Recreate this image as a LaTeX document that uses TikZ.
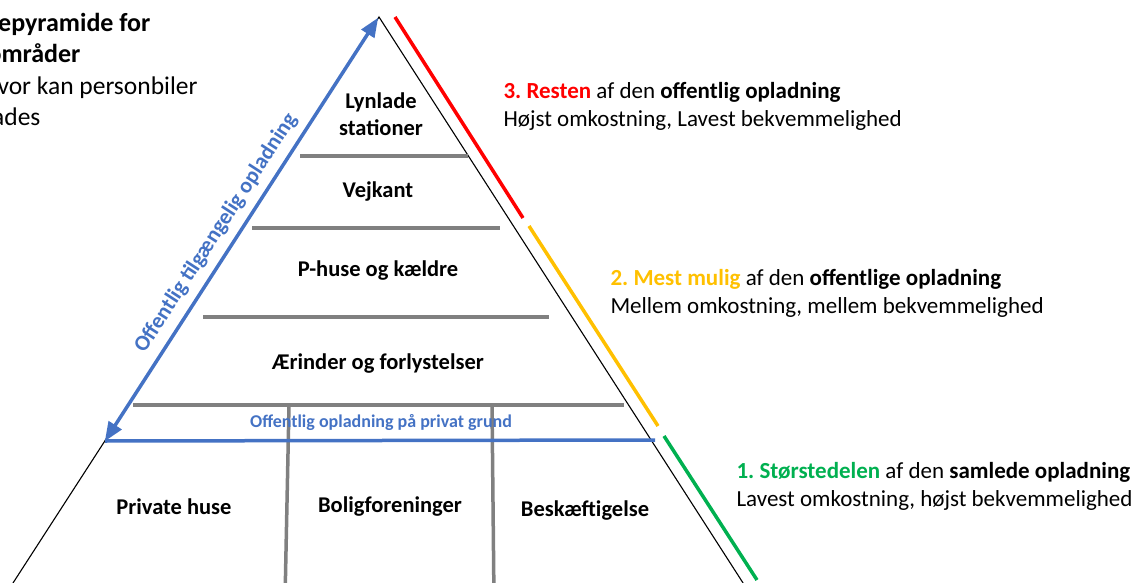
\documentclass[tikz,border=0pt]{standalone}
\usepackage{fontspec}
\setmainfont{Carlito}
\usepackage{tikz}
\usetikzlibrary{arrows,positioning}
\definecolor{pyrblue}{HTML}{4472C4}
\definecolor{pyrgray}{HTML}{808080}
\definecolor{pyrred}{HTML}{FF0000}
\definecolor{pyryellow}{HTML}{FFC000}
\definecolor{pyrgreen}{HTML}{00B050}
\frenchspacing

\begin{document}
\begin{tikzpicture}[x=1pt,y=-1pt,
  level/.style={draw=pyrgray,line width=3.5pt},
  band/.style={line width=3.5pt},
  lbl/.style={font=\bfseries\fontsize{22.5}{27}\selectfont,align=center},
  note/.style={anchor=west,align=left,font=\fontsize{23}{28}\selectfont},
  head/.style={anchor=base east,font=\fontsize{25.5}{31}\selectfont}]
 \clip (0,0) rectangle (1132,583);
 % pyramid outline
 \coordinate (apex) at (379,17);
 \coordinate (baseL) at (2,600);
 \coordinate (baseR) at (754,600);
 \draw[line width=1.1pt] (baseL) -- (apex) -- (baseR);

 % levels
 \coordinate (l1a) at (300,156); \coordinate (l1b) at (468,156);
 \coordinate (l2a) at (252,228); \coordinate (l2b) at (500,228);
 \coordinate (l3a) at (203,317); \coordinate (l3b) at (549,317);
 \coordinate (l4a) at (133,405); \coordinate (l4b) at (624,405);
 \coordinate (v1a) at (289,405); \coordinate (v1b) at (285,600);
 \coordinate (v2a) at (492,405); \coordinate (v2b) at (494,600);
 \draw[level] (l1a) -- (l1b);
 \draw[level] (l2a) -- (l2b);
 \draw[level] (l3a) -- (l3b);
 \draw[level] (l4a) -- (l4b);
 \draw[level] (v1a) -- (v1b);
 \draw[level] (v2a) -- (v2b);

 % public access arrow
 \coordinate (arrL) at (105,441);
 \coordinate (arrT) at (378,18);
 \coordinate (arrR) at (655,440);
 \draw[pyrblue,band] (arrR) -- (arrL);
 \draw[pyrblue,band,triangle 45-triangle 45] (arrL) -- (arrT);

 % cost bands
 \coordinate (r1) at (395,17);  \coordinate (r2) at (523,218);
 \coordinate (y1) at (529,226); \coordinate (y2) at (658,426);
 \coordinate (g1) at (664,436); \coordinate (g2) at (757,580);
 \draw[pyrred,band] (r1) -- (r2);
 \draw[pyryellow,band] (y1) -- (y2);
 \draw[pyrgreen,band] (g1) -- (g2);

 % labels inside
 \node[lbl] (lynlade) at (381,114) {Lynlade\\stationer};
 \node[lbl] (vejkant) at (378,192) {Vejkant};
 \node[lbl] (phuse) at (378,271) {P-huse og kældre};
 \node[lbl] (aerinder) at (378,364) {Ærinder og forlystelser};
 \node[text=pyrblue,font=\bfseries\fontsize{18}{22}\selectfont] (privgrund) at (381,422) {Offentlig opladning på privat grund};
 \node[lbl] (privat) at (174,507) {Private huse};
 \node[lbl] (bolig) at (390,507) {Boligforeninger};
 \node[lbl] (beskaef) at (585,511) {Beskæftigelse};
 \node[rotate=57,text=pyrblue,font=\bfseries\fontsize{22}{26}\selectfont] (tilg) at (216,233) {Offentlig tilgængelig opladning};

 % notes right
 \node[note] (note3) at (500,106) {\textbf{\textcolor{pyrred}{3. Resten}} af den \textbf{offentlig opladning}\\Højst omkostning, Lavest bekvemmelighed};
 \node[note] (note2) at (607,293) {\textbf{\textcolor{pyryellow}{2. Mest mulig}} af den \textbf{offentlige opladning}\\Mellem omkostning, mellem bekvemmelighed};
 \node[note] (note1) at (733,486) {\textbf{\textcolor{pyrgreen}{1. Størstedelen}} af den \textbf{samlede opladning}\\Lavest omkostning, højst bekvemmelighed};

 % heading, cut at left edge
 \node[head,font=\bfseries\fontsize{26}{31}\selectfont] (head1) at (154,32) {epyramide for};
 \node[head,font=\bfseries\fontsize{26}{31}\selectfont] (head2) at (84,63) {områder};
 \node[head] (head3) at (201,95) {vor kan personbiler};
 \node[head] (head4) at (44,126) {ades};
\end{tikzpicture}
\end{document}
